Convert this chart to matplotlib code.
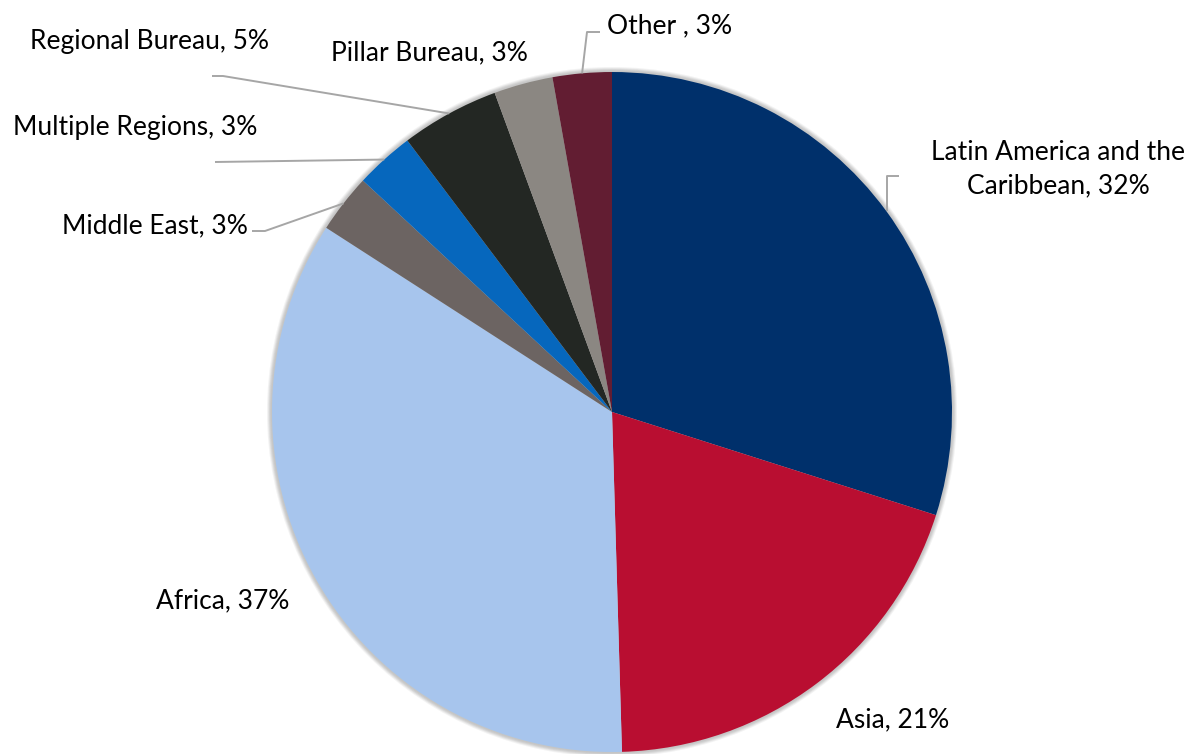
import matplotlib.pyplot as plt
import numpy as np
from matplotlib.patches import Circle

plt.rcParams['font.family'] = ['Lato', 'DejaVu Sans']

# --- Données ---
regions = ["Latin America and the\nCaribbean", "Asia", "Africa", "Middle East",
           "Multiple Regions", "Regional Bureau", "Pillar Bureau", "Other "]
parts = [32, 21, 37, 3, 3, 5, 3, 3]
couleurs = ["#00306b", "#b90e31", "#a7c5ed", "#6c6462",
            "#0667bd", "#232723", "#8b8782", "#621d32"]

W, H = 1201, 754
cx, cy, R = 612, 412, 340
taille = 19

fig = plt.figure(figsize=(W / 100, H / 100), dpi=100)
ax = fig.add_axes([0, 0, 1, 1])


def py(y):
    # y mesuré depuis le haut
    return H - y


# ombre légère autour du disque
for k, a in zip(range(5, 0, -1), [0.2, 0.3, 0.45, 0.6, 0.8]):
    ax.add_patch(Circle((cx, py(cy)), R + k, color="#c4c4c4", alpha=a, lw=0, zorder=0))

wedges, _ = ax.pie(parts, colors=couleurs, startangle=90, counterclock=False,
                   center=(cx, py(cy)), radius=R, frame=True,
                   wedgeprops=dict(linewidth=0))
ax.set_xlim(0, W)
ax.set_ylim(0, H)
ax.set_aspect('equal')
ax.axis('off')


def bord(w):
    ang = np.deg2rad((w.theta1 + w.theta2) / 2)
    return cx + R * np.cos(ang), py(cy) + R * np.sin(ang)


# --- Étiquettes ---
etiquettes = [
    # (index, x centre, ligne de base depuis le haut)
    (1, 893, 727),
    (2, 223, 608),
    (3, 155, 233),
    (4, 135, 135),
    (5, 149, 49),
    (6, 429, 60),
    (7, 670, 33),
]
for i, x, yb in etiquettes:
    ax.text(x, py(yb), f"{regions[i]}, {parts[i]}%", ha='center', va='baseline',
            fontsize=taille, color='black')

# étiquette sur deux lignes
ax.text(1058, py(160), "Latin America and the", ha='center', va='baseline', fontsize=taille)
ax.text(1058, py(193), f"Caribbean, {parts[0]}%", ha='center', va='baseline', fontsize=taille)

# --- Lignes de rappel ---
gris = "#a6a6a6"
chemins = {
    0: [(899, 176), (887, 176)],
    3: [(252, 231), (265, 231)],
    4: [(215, 162)],
    5: [(212, 76), (223, 76)],
    7: [(600, 32), (587, 32)],
}
for i, pts in chemins.items():
    xs = [p[0] for p in pts]
    ys = [py(p[1]) for p in pts]
    bx, by = bord(wedges[i])
    if i == 0:
        # crochet vertical jusqu'au bord
        xs.append(xs[-1])
    else:
        xs.append(bx)
    ys.append(by)
    ax.plot(xs, ys, color=gris, lw=1.4, zorder=1, solid_capstyle='butt')

plt.savefig("out.png", dpi=100)
